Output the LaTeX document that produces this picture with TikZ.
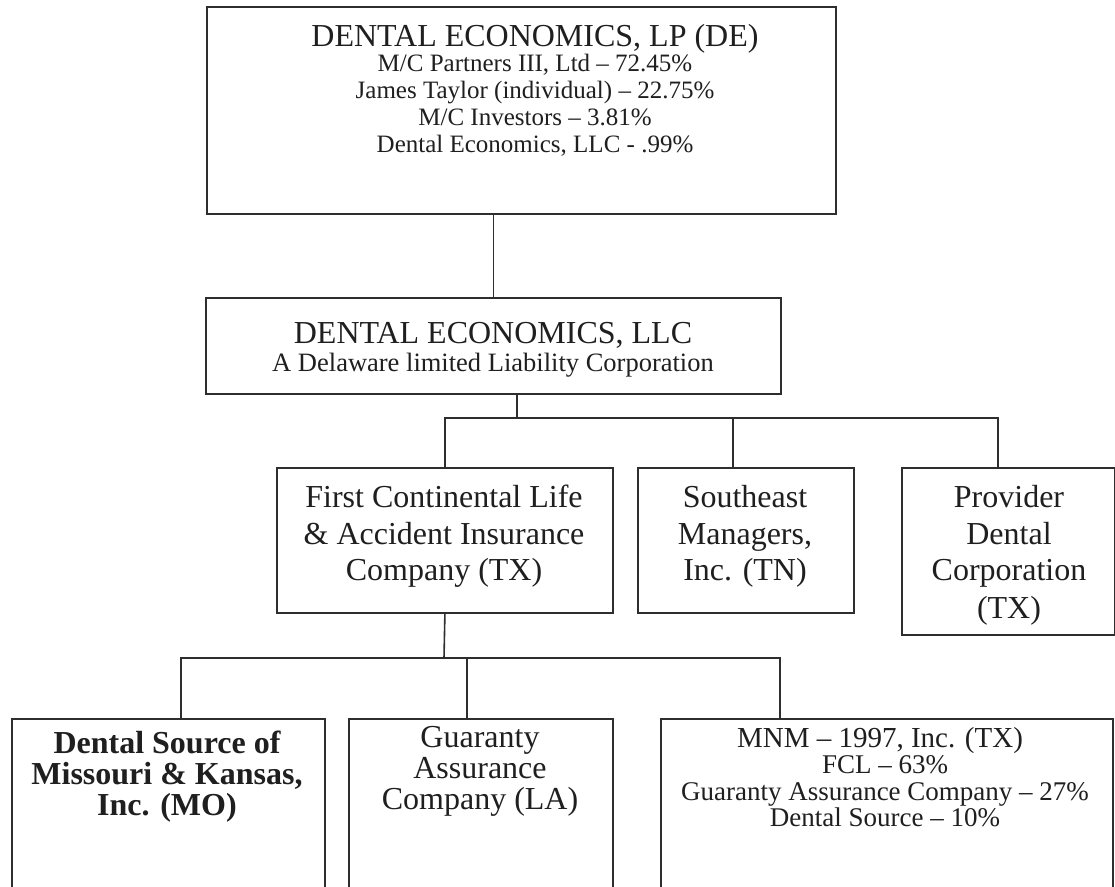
\documentclass[tikz,border=0pt]{standalone}
\usepackage{fontspec}
\setmainfont{Liberation Serif}
\begin{document}
\begin{tikzpicture}[x=1pt,y=-1pt,
  box/.style={draw=black!82, line width=1.8pt, inner sep=0pt, anchor=north west},
  conn/.style={draw=black!82, line width=1.6pt},
  txt/.style={anchor=base, inner sep=0pt, text=black!88},
  big/.style={font=\fontsize{32}{35}\selectfont},
  mid/.style={font=\fontsize{32}{36}\selectfont},
  small/.style={font=\fontsize{25}{28}\selectfont}]
\useasboundingbox (0,0) rectangle (1115,886);
\fill[white] (0,0) rectangle (1115,886);
\begin{scope}
\clip (0,0) rectangle (1115,886);
% boxes
\node[box, minimum width=629pt, minimum height=207pt] (top) at (206,6) {};
\node[box, minimum width=575pt, minimum height=96pt] (llc) at (205,297) {};
\node[box, minimum width=336pt, minimum height=145pt] (fcl) at (276,467) {};
\node[box, minimum width=216pt, minimum height=145pt] (se) at (637,467) {};
\node[box, minimum width=213pt, minimum height=167pt] (prov) at (901,467) {};
\node[box, minimum width=313pt, minimum height=220pt] (ds) at (11,718) {};
\node[box, minimum width=264pt, minimum height=220pt] (ga) at (348,718) {};
\node[box, minimum width=452pt, minimum height=220pt] (mnm) at (660,718) {};

% top box text
\node[txt, big] (t1) at (535,46) {DENTAL ECONOMICS, LP (DE)};
\node[txt, small] (t2) at (535,71) {M/C Partners III, Ltd -- 72.45\%};
\node[txt, small] (t3) at (535,98) {James Taylor (individual) -- 22.75\%};
\node[txt, small] (t4) at (535,125) {M/C Investors -- 3.81\%};
\node[txt, small] (t5) at (535,152) {Dental Economics, LLC - .99\%};

% llc text
\node[txt, big] (l1) at (493,343) {DENTAL ECONOMICS, LLC};
\node[txt, font=\fontsize{26.5}{30}\selectfont, text=black!88] (l2) at (493,371) {A Delaware limited Liability Corporation};

% middle row text
\node[txt, mid] (f1) at (444,507.5) {First Continental Life};
\node[txt, mid] (f2) at (444,544) {\& Accident Insurance};
\node[txt, mid] (f3) at (444,580.5) {Company (TX)};
\node[txt, mid] (s1) at (745,507.5) {Southeast};
\node[txt, mid] (s2) at (745,544) {Managers,};
\node[txt, mid] (s3) at (745,580.5) {Inc. (TN)};
\node[txt, mid] (p1) at (1009,507.5) {Provider};
\node[txt, mid] (p2) at (1009,544) {Dental};
\node[txt, mid] (p3) at (1009,580.5) {Corporation};
\node[txt, mid] (p4) at (1009,618) {(TX)};

% bottom row text
\node[txt, font=\fontsize{32}{36}\selectfont\bfseries] (d1) at (167,753.5) {Dental Source of};
\node[txt, font=\fontsize{32}{36}\selectfont\bfseries] (d2) at (167,784.5) {Missouri \& Kansas,};
\node[txt, font=\fontsize{32}{36}\selectfont\bfseries] (d3) at (167,815.5) {Inc. (MO)};
\node[txt, mid] (g1) at (480,747.5) {Guaranty};
\node[txt, mid] (g2) at (480,778.5) {Assurance};
\node[txt, mid] (g3) at (480,809.5) {Company (LA)};
\node[txt, font=\fontsize{29}{33}\selectfont] (m1) at (880,747) {MNM -- 1997, Inc. (TX)};
\node[txt, font=\fontsize{27}{30}\selectfont] (m2) at (885,773) {FCL -- 63\%};
\node[txt, font=\fontsize{27}{30}\selectfont] (m3) at (885,800) {Guaranty Assurance Company -- 27\%};
\node[txt, font=\fontsize{27}{30}\selectfont] (m4) at (885,826) {Dental Source -- 10\%};

% connector coordinates
\coordinate (b1) at (517,418);
\coordinate (sedrop) at (733,467);
\coordinate (pdrop) at (998,467);
\coordinate (b2) at (444,658);
\coordinate (dsdrop) at (181,718);
\coordinate (gadrop) at (467,718);
\coordinate (mnmdrop) at (780,718);

% connectors
\draw[conn] (top.south -| llc.north) -- (llc.north);
\draw[conn] (llc.south -| b1) -- (b1);
\draw[conn] (fcl.north) |- (pdrop |- b1) -- (pdrop);
\draw[conn] (sedrop |- b1) -- (sedrop);
\draw[conn] (fcl.south) -- (b2);
\draw[conn] (dsdrop) |- (mnmdrop |- b2) -- (mnmdrop);
\draw[conn] (gadrop |- b2) -- (gadrop);
\end{scope}
\end{tikzpicture}
\end{document}
